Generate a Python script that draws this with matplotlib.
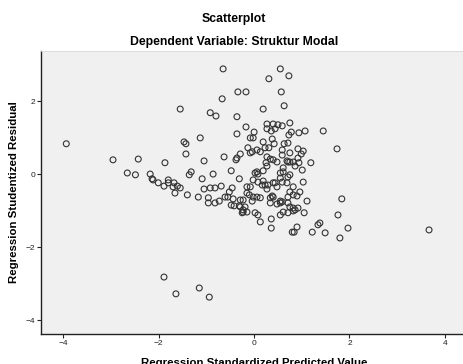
import matplotlib
matplotlib.use("Agg")
import matplotlib.pyplot as plt

plt.rcParams['font.family'] = ['Liberation Sans', 'DejaVu Sans']

# Regression Standardized Predicted Value / Studentized Residual
pred = [
    -0.65, 0.55, 0.73, 0.31, -0.34, -0.17, 0.57, -0.67, -1.55, -0.92, -0.80, -0.36, 0.19, 0.63,
    0.27, 0.40, 0.50, 0.59, 0.75, -0.17, 0.00, -0.36, 0.27, 0.36, 0.44, 0.78, 0.94, 1.07, 1.45,
    -1.13, -1.47, -1.43, -0.02, 0.19, 0.38, 0.42, 0.63, 0.71, 0.73, -0.08,
    -0.13, -0.04, 0.06, 0.13, 0.23, 0.31, -0.08, -0.29, 0.59, 0.59, 0.75, 0.92, 1.03, 0.99, 1.74,
    0.27, 0.34, 0.40, 0.48, 0.69, 0.71, 0.75, 0.82, 0.92, 0.94, 1.19, 0.25, 0.27, 0.61, 0.61,
    0.86, 1.01, 0.06, 0.02, 0.08, 0.19, 0.55, 0.75, 0.71, 1.03, 0.55, 0.59, 0.69, -0.02, 0.08,
    0.19, 0.17, 0.23, 0.29, 0.40, 0.44, -0.15, -0.08, 0.48, 0.82,
    -3.94, -2.96, -2.43, -2.66, -2.49, -2.18, -2.14, -2.12, -2.01, -1.87, -1.89, -1.80, -1.80,
    -1.43, -1.05, -0.63, -0.38, -0.36, -1.32, -1.36, -0.86, -0.48, -1.09, -0.31, -1.70, -1.61,
    -1.55, -1.66, -1.68, -1.40, -1.17, -1.05, -0.92, -0.82, -0.69, -0.46, -0.52, -0.61, -0.55,
    -0.44, -0.96, -0.96, -0.82, -0.73, -0.48, -0.42, -0.31, -0.23, -0.15, -0.25,
    0.27, -0.15, -0.10, -0.02, 0.06, 0.13, -0.29, -0.23, -0.04, 0.34, 0.38, 0.40, 0.55, 0.59,
    0.55, 0.71, 0.75, 0.82, 0.90, 0.96, 0.71, 0.75, 0.82, 0.86, 0.92, 0.34, 0.48, 1.11, 1.84,
    -0.29, -0.23, -0.19, 0.02, 0.08, 0.13, 0.36, 0.55, 0.61, 0.71, 0.82, 1.05, 0.36, 0.80, 0.84,
    0.90, 1.22, 1.34, 1.38, 1.49, 1.76, 1.80, 1.97,
    3.67, -1.89, -1.64, -1.15, -0.94,
]
resid = [
    2.89, 2.89, 2.70, 2.62, 2.26, 2.26, 2.26, 2.07, 1.79, 1.69, 1.60, 1.58, 1.79, 1.88,
    1.38, 1.38, 1.36, 1.33, 1.41, 1.30, 1.16, 1.11, 1.25, 1.19, 1.25, 1.16, 1.14, 1.19, 1.19,
    1.00, 0.89, 0.84, 1.00, 0.89, 0.97, 0.84, 0.84, 0.86, 1.08, 1.00,
    0.73, 0.62, 0.67, 0.62, 0.73, 0.73, 0.59, 0.56, 0.67, 0.53, 0.59, 0.70, 0.64, 0.56, 0.70,
    0.48, 0.42, 0.40, 0.34, 0.37, 0.34, 0.34, 0.34, 0.45, 0.32, 0.32, 0.32, 0.23, 0.18, 0.07,
    0.23, 0.12, 0.07, 0.04, 0.01, 0.10, 0.04, -0.01, -0.07, -0.21, -0.10, -0.21, -0.23, -0.15, -0.21,
    -0.18, -0.29, -0.29, -0.29, -0.23, -0.23, -0.34, -0.34, -0.34, -0.34,
    0.84, 0.40, 0.42, 0.04, -0.01, 0.01, -0.12, -0.15, -0.23, 0.32, -0.32, -0.15, -0.23,
    0.56, 0.37, 0.48, 0.40, 0.45, 0.07, -0.01, 0.01, 0.10, -0.12, -0.12, -0.34, -0.32,
    -0.37, -0.51, -0.23, -0.56, -0.62, -0.40, -0.37, -0.37, -0.32, -0.37, -0.48, -0.62, -0.62,
    -0.67, -0.64, -0.78, -0.78, -0.73, -0.84, -0.86, -0.86, -0.97, -1.03, -1.05,
    -0.40, -0.51, -0.56, -0.62, -0.62, -0.64, -0.70, -0.70, -0.73, -0.64, -0.59, -0.62, -0.73, -0.75,
    -0.78, -0.62, -0.48, -0.56, -0.59, -0.48, -0.78, -0.89, -0.92, -0.97, -0.92, -0.78, -0.81, -0.73, -0.67,
    -0.89, -1.03, -0.89, -1.05, -1.11, -1.30, -1.22, -1.11, -1.03, -1.05, -1.00, -1.05, -1.47, -1.58, -1.58,
    -1.44, -1.58, -1.38, -1.33, -1.60, -1.11, -1.74, -1.47,
    -1.52, -2.81, -3.27, -3.11, -3.36,
]
xticks = [-4, -2, 0, 2, 4]
yticks = [-4, -2, 0, 2]

fig = plt.figure(figsize=(4.63, 3.64), dpi=100)
ax = fig.add_axes([0.0886, 0.0824, 0.9266, 0.7775])
ax.set_facecolor('#f0f0f0')

ax.scatter(pred, resid, s=18, facecolors='none', edgecolors='#333333', linewidths=0.8)

# ticks first, then limits (set_ticks would widen the view otherwise)
ax.set_xticks(xticks)
ax.set_yticks(yticks)
ax.set_xlim(-4.47, 4.53)
ax.set_ylim(-4.37, 3.38)
ax.tick_params(labelsize=6, length=3, width=0.8, pad=1, colors='#222222')

for s in ['top', 'right']:
    ax.spines[s].set_color('#d8d8d8')
    ax.spines[s].set_linewidth(0.6)
for s in ['left', 'bottom']:
    ax.spines[s].set_color('#222222')
    ax.spines[s].set_linewidth(1.0)

# axis titles placed like the SPSS output (x one runs off the bottom edge)
fig.text(0.549, 0.0165, 'Regression Standardized Predicted Value', ha='center', va='top',
         fontsize=8.2, fontweight='bold')
fig.text(0.0313, 0.4725, 'Regression Studentized Residual', ha='center', va='center',
         rotation=90, fontsize=8.2, fontweight='bold')

fig.text(0.506, 0.948, 'Scatterplot', ha='center', va='center', fontsize=8.8, fontweight='bold')
fig.text(0.506, 0.885, 'Dependent Variable: Struktur Modal', ha='center', va='center',
         fontsize=8.8, fontweight='bold')

fig.savefig('out.png', dpi=100)
